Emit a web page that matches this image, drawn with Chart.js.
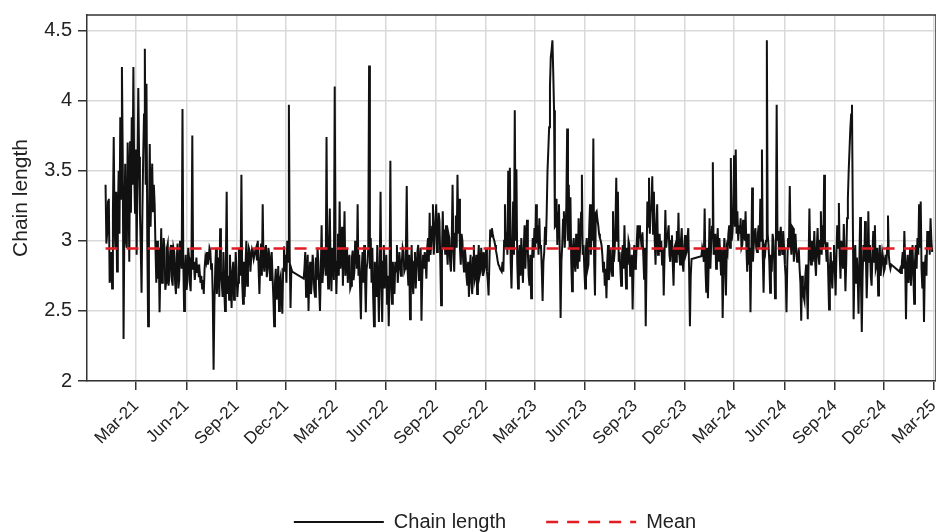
<!DOCTYPE html>
<html>
<head>
<meta charset="utf-8">
<script src="https://cdn.jsdelivr.net/npm/chart.js@4.4.1/dist/chart.umd.min.js"></script>
<style>
  html, body { margin: 0; padding: 0; background: #fff; }
  #wrap { width: 936px; height: 532px; }
</style>
</head>
<body>
<div id="wrap"><canvas id="chainChart" width="936" height="532"></canvas></div>
<script>
// series: one reading every 1.5 days, starting 4 Jan 2021 (null = no data, line spans the gap)
const startDate = "2021-01-04";
const stepDays = 1.5;
const chainLength = [
  3.40, 2.98, 3.05, 3.28, 3.30, 2.70, 2.75, 2.92, 2.66, 3.20, 3.74, 3.10, 2.95, 3.35, 2.78, 3.15, 3.50, 3.05, 3.88, 3.30,
  4.24, 3.60, 2.30, 3.10, 3.55, 3.00, 2.95, 3.70, 3.45, 2.85, 3.71, 3.20, 3.88, 3.40, 4.24, 3.50, 3.20, 3.65, 2.90, 3.50,
  4.09, 3.60, 3.20, 2.95, 2.63, 3.20, 3.60, 3.90, 4.37, 3.40, 4.12, 3.00, 2.39, 3.10, 3.69, 3.10, 3.35, 3.55, 3.21, 3.40,
  3.26, 2.95, 2.70, 3.00, 2.73, 2.95, 2.49, 2.80, 3.09, 2.70, 2.80, 3.02, 2.95, 2.65, 2.70, 2.95, 2.98, 2.68, 2.75, 2.92,
  2.97, 2.72, 2.68, 2.95, 2.92, 2.70, 2.62, 2.88, 2.98, 2.66, 2.72, 3.00, 2.95, 2.80, 3.94, 2.85, 2.50, 2.78, 2.90, 2.65,
  2.72, 2.95, 2.88, 2.70, 2.64, 2.90, 3.75, 2.80, 2.85, 2.72, 2.80, 2.88, 2.77, 2.83, 2.74, 2.78, 2.70, 2.75, 2.66, 2.72,
  2.62, 2.80, 2.88, 2.85, 2.92, 2.83, 2.87, 2.95, 2.93, 2.80, 2.84, 2.60, 2.08, 2.55, 2.80, 2.95, 2.62, 2.75, 2.88, 2.60,
  3.09, 2.78, 2.70, 2.60, 2.92, 2.66, 2.50, 2.85, 3.35, 2.62, 2.75, 2.58, 2.90, 2.70, 2.52, 2.78, 2.85, 2.58, 2.65, 2.92,
  2.80, 2.60, 2.70, 2.95, 2.90, 2.75, 3.47, 2.70, 2.55, 2.85, 2.60, 2.82, 3.00, 2.68, 2.80, 2.95, 2.93, 2.78, 2.88, 2.94,
  2.92, 2.87, 2.90, 2.93, 2.95, 2.86, 3.00, 2.80, 2.62, 2.85, 2.98, 2.75, 3.26, 2.85, 2.78, 2.95, 2.97, 2.74, 2.80, 2.95,
  2.90, 2.72, 2.84, 2.92, 2.75, 2.60, 2.39, 2.70, 2.80, 2.58, 2.62, 2.82, 2.50, 2.72, 2.75, 2.60, 2.48, 2.80, 2.96, 2.78,
  2.90, 2.70, 3.00, 2.85, 3.97, 2.90, 2.52, 2.80, 2.78, null, null, null, null, null, null, null, null, null, null, null,
  null, null, 2.73, 2.80, 2.92, 2.60, 2.78, 2.90, 2.50, 2.75, 2.85, 2.62, 2.70, 2.90, 2.83, 2.65, 2.60, 2.88, 2.72, 2.95,
  2.85, 2.66, 2.50, 2.78, 3.11, 2.70, 2.80, 2.95, 2.90, 2.75, 3.74, 2.85, 2.66, 2.95, 3.23, 2.80, 2.64, 2.95, 2.90, 2.72,
  4.10, 2.95, 2.62, 2.85, 3.05, 2.75, 3.28, 2.80, 2.90, 3.10, 2.68, 2.95, 3.21, 2.75, 2.85, 2.95, 2.70, 2.85, 2.90, 2.66,
  2.68, 2.88, 2.93, 2.72, 2.78, 3.00, 2.95, 2.80, 3.26, 2.75, 2.90, 2.65, 2.44, 2.80, 2.92, 2.70, 2.97, 2.75, 2.49, 2.80,
  2.85, 2.95, 4.25, 2.80, 3.02, 2.70, 2.95, 2.60, 2.39, 2.85, 2.74, 2.60, 2.97, 2.70, 2.42, 2.80, 3.35, 2.70, 2.42, 2.85,
  2.97, 2.66, 2.78, 2.90, 2.55, 2.75, 2.39, 2.70, 3.57, 2.72, 2.55, 2.85, 2.75, 2.62, 2.85, 2.78, 2.97, 2.70, 2.80, 2.92,
  2.83, 2.75, 2.85, 2.95, 2.92, 2.78, 2.80, 2.95, 3.39, 2.80, 2.68, 2.90, 2.44, 2.75, 2.97, 2.70, 2.62, 2.85, 2.92, 2.66,
  2.80, 2.92, 2.97, 2.72, 2.80, 2.95, 2.43, 2.75, 2.90, 2.80, 2.92, 2.85, 2.73, 2.95, 3.02, 2.85, 3.20, 2.90, 2.97, 3.10,
  3.26, 2.90, 3.02, 3.15, 3.26, 2.92, 3.00, 3.20, 3.14, 2.85, 2.54, 2.90, 3.21, 2.95, 3.08, 2.90, 3.11, 2.95, 2.83, 3.05,
  3.02, 2.85, 2.78, 3.00, 3.40, 2.95, 2.78, 3.05, 3.18, 2.95, 3.47, 3.05, 3.30, 2.95, 2.83, 3.05, 3.00, 2.85, 2.78, 2.95,
  2.88, 2.75, 2.68, 2.85, 2.60, 2.80, 2.90, 2.70, 2.62, 2.88, 2.97, 2.72, 2.75, 2.90, 2.62, 2.85, 2.97, 2.75, 2.78, 2.95,
  2.85, 2.75, 2.92, 2.80, 2.83, 2.95, 2.78, 2.72, 2.61, 2.85, 3.08, 3.03, 3.09, 3.05, 3.02, 3.00, 2.97, 2.93, 2.90, 2.86,
  2.83, 2.82, 2.80, 2.79, 2.78, 2.85, 2.78, 3.00, 3.26, 2.95, 3.06, 2.90, 3.50, 2.95, 3.52, 2.85, 2.66, 2.95, 3.28, 2.90,
  3.93, 3.00, 3.51, 2.85, 2.66, 2.90, 2.97, 2.75, 3.02, 2.85, 2.70, 2.95, 3.11, 2.80, 3.02, 3.15, 2.92, 2.75, 2.68, 2.90,
  2.59, 2.85, 3.02, 2.88, 3.09, 2.95, 3.26, 2.98, 3.11, 2.90, 3.16, 2.95, 2.97, 2.80, 2.57, 2.85, 2.92, 3.10, 2.97, 3.20,
  3.50, 3.65, 3.81, 4.10, 4.31, 4.36, 4.43, 4.20, 3.93, 3.10, 3.11, 3.30, 2.97, 3.20, 3.26, 2.90, 2.45, 2.85, 2.97, 3.15,
  3.21, 2.95, 3.07, 3.25, 3.80, 3.00, 3.40, 2.95, 3.31, 2.85, 2.64, 2.95, 3.02, 2.85, 2.78, 3.05, 2.88, 2.80, 3.16, 2.85,
  2.97, 3.20, 3.47, 2.90, 2.97, 2.80, 2.66, 2.95, 3.02, 2.80, 2.83, 3.10, 3.26, 2.90, 3.11, 3.00, 3.73, 2.85, 2.61, 3.20,
  3.21, 3.15, 3.11, 3.05, 3.02, 3.00, 2.97, 2.90, 2.78, 2.85, 2.68, 2.80, 2.59, 2.85, 2.97, 2.72, 2.78, 2.95, 2.83, 2.75,
  3.21, 2.85, 2.92, 3.10, 3.45, 3.00, 3.35, 2.85, 2.92, 2.80, 2.68, 2.90, 2.97, 2.80, 3.11, 2.85, 2.66, 2.95, 2.83, 3.00,
  2.97, 2.75, 2.78, 2.90, 2.51, 2.80, 2.97, 2.80, 2.83, 2.98, 3.11, 2.95, 3.11, 3.05, 3.02, 2.95, 3.06, 2.90, 2.73, 2.95,
  2.39, 2.85, 3.28, 3.10, 3.45, 3.05, 3.21, 3.25, 3.46, 3.05, 3.35, 3.00, 2.83, 3.10, 3.26, 2.90, 2.97, 3.05, 2.92, 3.00,
  2.83, 2.95, 2.61, 2.90, 3.22, 2.95, 3.02, 3.05, 3.11, 2.90, 2.85, 3.00, 3.04, 2.85, 2.68, 2.95, 2.97, 2.85, 3.07, 2.90,
  3.20, 2.90, 2.83, 3.00, 3.09, 2.85, 2.78, 2.95, 3.04, 2.90, 2.92, 3.02, 3.09, 2.80, 2.39, 2.75, 2.87, null, null, null,
  null, null, null, null, null, null, null, null, 2.89, 2.95, 2.92, 2.85, 3.23, 2.80, 2.63, 2.95, 2.59, 2.85, 3.16, 2.80,
  2.97, 3.10, 3.56, 2.90, 2.97, 3.05, 2.80, 2.95, 3.09, 2.85, 3.02, 2.90, 2.76, 2.95, 2.45, 2.80, 3.02, 2.85, 2.61, 2.95,
  2.92, 3.05, 3.11, 2.95, 3.59, 3.00, 3.06, 3.20, 3.61, 3.10, 3.65, 3.05, 3.21, 3.00, 3.11, 3.05, 3.16, 2.95, 2.97, 3.15,
  3.06, 3.00, 3.21, 2.95, 2.78, 3.05, 2.83, 2.95, 2.49, 2.90, 3.38, 2.85, 2.97, 3.05, 3.09, 2.95, 2.92, 3.05, 3.11, 2.95,
  3.30, 3.00, 3.65, 2.90, 2.63, 2.95, 2.92, 3.00, 4.43, 3.05, 2.97, 2.85, 2.63, 2.90, 2.78, 3.05, 3.00, 2.85, 2.59, 2.95,
  3.97, 3.00, 3.07, 2.90, 3.02, 3.10, 2.97, 2.90, 3.07, 2.95, 2.83, 2.75, 2.49, 2.85, 3.02, 2.95, 3.39, 3.00, 2.90, 3.10,
  3.09, 2.85, 2.97, 3.05, 2.92, 2.85, 2.87, 2.95, 2.80, 2.70, 2.43, 2.75, 2.68, 2.60, 2.57, 2.75, 2.83, 2.65, 2.44, 2.85,
  3.23, 2.90, 2.83, 3.00, 2.85, 2.90, 3.07, 2.85, 2.75, 2.95, 3.09, 2.90, 2.83, 3.00, 3.21, 2.90, 3.11, 2.95, 3.47, 3.00,
  2.97, 2.85, 2.99, 2.75, 2.51, 2.80, 2.92, 2.75, 2.66, 2.85, 2.97, 2.80, 2.61, 2.90, 3.11, 2.95, 3.27, 2.90, 2.73, 3.00,
  2.92, 2.80, 3.12, 2.90, 2.64, 2.85, 3.16, 3.30, 3.50, 3.65, 3.80, 3.90, 3.97, 3.20, 2.44, 2.80, 2.97, 2.70, 2.88, 2.75,
  2.48, 2.85, 3.17, 2.70, 2.35, 2.75, 2.97, 2.85, 3.14, 2.90, 2.59, 2.80, 3.21, 2.85, 2.97, 2.75, 2.68, 2.90, 3.07, 2.85,
  3.11, 2.80, 2.83, 2.95, 2.61, 2.80, 2.97, 2.75, 2.83, 2.92, 2.88, 2.78, 2.80, 2.90, 2.83, 2.95, 3.18, 2.90, 2.83, 2.80,
  2.83, null, null, null, null, null, null, null, null, null, 2.78, 2.80, 2.77, 2.85, 2.92, 2.80, 3.07, 2.85, 2.44, 2.80,
  2.90, 2.70, 2.78, 2.95, 2.68, 2.85, 2.97, 2.75, 2.55, 2.85, 2.97, 2.80, 3.02, 2.90, 3.26, 2.95, 3.28, 2.80, 2.66, 2.85,
  2.42, 2.80, 2.90, 2.75, 3.07, 2.95, 3.07, 2.90, 3.16, 3.00, 2.92
];
const meanValue = 2.945;

const tickLabels = [
  "Mar-21", "Jun-21", "Sep-21", "Dec-21", "Mar-22", "Jun-22", "Sep-22", "Dec-22",
  "Mar-23", "Jun-23", "Sep-23", "Dec-23", "Mar-24", "Jun-24", "Sep-24", "Dec-24", "Mar-25"
];
const yTicks = [2, 2.5, 3, 3.5, 4, 4.5];
const axisStart = "2020-12-01";
const axisEnd = "2025-03-06";

// helpers: dates -> day numbers for the linear x axis
const DAY = 86400000;
const monthIdx = { Mar: 2, Jun: 5, Sep: 8, Dec: 11 };
function toDay(iso) {
  const [y, m, d] = iso.split("-").map(Number);
  return Date.UTC(y, m - 1, d) / DAY;
}
function labelToDay(lbl) {
  const [mon, yy] = lbl.split("-");
  return Date.UTC(2000 + Number(yy), monthIdx[mon], 1) / DAY;
}

const x0 = toDay(startDate);
const chainPoints = chainLength.map((v, i) => ({ x: x0 + i * stepDays, y: v }));
const xLast = x0 + (chainLength.length - 1) * stepDays;
const meanPoints = [{ x: x0, y: meanValue }, { x: xLast, y: meanValue }];
const tickDays = tickLabels.map(labelToDay);

const FONT = "'Liberation Sans', Arial, sans-serif";
const AXIS = "#333";

// top + right frame of the plot box, and nudge the legend row a bit left
const frame = {
  id: "frame",
  afterLayout(chart) {
    if (chart.legend) chart.legend.left = 54;
  },
  afterDraw(chart) {
    const { ctx, chartArea: a } = chart;
    ctx.save();
    ctx.strokeStyle = AXIS;
    ctx.lineWidth = 1.5;
    ctx.beginPath();
    ctx.moveTo(a.left, a.top);
    ctx.lineTo(a.right, a.top);
    ctx.lineTo(a.right, a.bottom);
    ctx.stroke();
    ctx.restore();
  }
};

new Chart(document.getElementById("chainChart"), {
  type: "line",
  data: {
    datasets: [
      {
        label: "Chain length",
        data: chainPoints,
        borderColor: "#111",
        borderWidth: 2,
        pointRadius: 0,
        tension: 0,
        spanGaps: true,
        order: 1
      },
      {
        label: "Mean",
        data: meanPoints,
        borderColor: "#e31b23",
        borderWidth: 2.5,
        borderDash: [12, 9],
        pointRadius: 0,
        order: 0
      }
    ]
  },
  options: {
    responsive: false,
    animation: false,
    devicePixelRatio: 1,
    layout: { padding: { top: 15, right: 0, left: 0, bottom: -10 } },
    scales: {
      x: {
        type: "linear",
        min: toDay(axisStart),
        max: toDay(axisEnd),
        afterBuildTicks: (s) => { s.ticks = tickDays.map((v) => ({ value: v })); },
        afterFit: (s) => { s.height = 91; s.paddingLeft = 0; s.paddingRight = 0; },
        grid: { color: "#d9d9d9", lineWidth: 1.5, tickColor: AXIS, tickLength: 9, tickWidth: 1.5 },
        border: { color: AXIS, width: 1.5 },
        ticks: {
          autoSkip: false,
          maxRotation: 45,
          minRotation: 45,
          padding: 6,
          color: "#222",
          font: { family: FONT, size: 17 },
          callback: (v, i) => tickLabels[i]
        }
      },
      y: {
        min: 2,
        max: 4.61,
        afterBuildTicks: (s) => { s.ticks = yTicks.map((v) => ({ value: v })); },
        afterFit: (s) => { s.width = 87; s.paddingTop = 0; s.paddingBottom = 0; },
        grid: { color: "#d9d9d9", lineWidth: 1.5, tickColor: AXIS, tickLength: 9, tickWidth: 1.5 },
        border: { color: AXIS, width: 1.5 },
        ticks: {
          padding: 6,
          color: "#222",
          font: { family: FONT, size: 20 },
          callback: (v) => String(v)
        },
        title: {
          display: true,
          text: "Chain length",
          color: "#222",
          padding: { top: 9, bottom: 0 },
          font: { family: FONT, size: 21 }
        }
      }
    },
    plugins: {
      tooltip: { enabled: false },
      legend: {
        position: "bottom",
        fullSize: false,
        labels: {
          boxWidth: 90,
          boxHeight: 0,
          padding: 40,
          color: "#222",
          font: { family: FONT, size: 20 },
          sort: (a, b) => a.datasetIndex - b.datasetIndex
        }
      }
    }
  },
  plugins: [frame]
});
</script>
</body>
</html>
